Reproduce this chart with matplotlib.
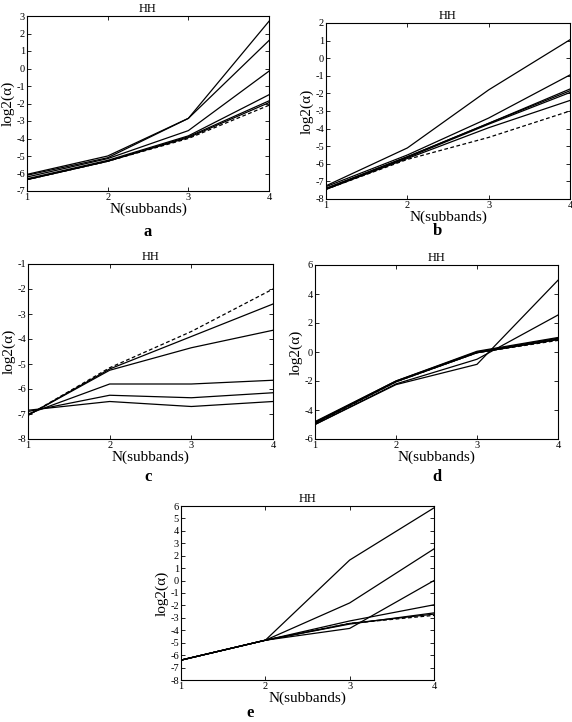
import matplotlib
matplotlib.use("Agg")
import matplotlib.pyplot as plt
import numpy as np

plt.rcParams['font.family'] = ['Liberation Serif', 'DejaVu Serif']
plt.rcParams['axes.unicode_minus'] = False

x = [1, 2, 3, 4]

# Panel a
a_solid = [
    [-6.05, -5.0, -2.85, 2.7],
    [-6.1, -5.1, -2.85, 1.6],
    [-6.2, -5.15, -3.55, -0.15],
    [-6.3, -5.25, -3.85, -1.5],
    [-6.35, -5.3, -3.9, -1.85],
    [-6.35, -5.3, -3.95, -1.95],
]
a_dashed = [-6.35, -5.3, -4.0, -2.1]

# Panel b
b_solid = [
    [-7.25, -5.1, -1.8, 1.05],
    [-7.3, -5.5, -3.4, -0.95],
    [-7.4, -5.6, -3.7, -1.75],
    [-7.4, -5.6, -3.7, -1.85],
    [-7.45, -5.65, -3.75, -1.95],
    [-7.45, -5.7, -3.95, -2.4],
]
b_dashed = [-7.45, -5.75, -4.5, -3.0]

# Panel c
c_solid = [
    [-7.05, -5.2, -3.9, -2.6],
    [-7.05, -5.25, -4.35, -3.65],
    [-7.0, -5.8, -5.8, -5.65],
    [-6.9, -6.25, -6.35, -6.15],
    [-6.85, -6.5, -6.7, -6.5],
]
c_dashed = [-7.05, -5.15, -3.7, -2.0]

# Panel d
d_solid = [
    [-5.0, -2.25, -0.85, 4.95],
    [-5.0, -2.2, -0.5, 2.55],
    [-4.8, -2.0, 0.05, 1.0],
    [-4.85, -2.0, 0.0, 0.95],
    [-4.9, -2.05, -0.05, 0.9],
    [-4.9, -2.05, -0.05, 0.85],
]
d_dashed = [-4.95, -2.05, -0.05, 0.8]

# Panel e
e_solid = [
    [-6.4, -4.8, 1.65, 5.85],
    [-6.4, -4.8, -1.8, 2.55],
    [-6.4, -4.8, -3.85, 0.0],
    [-6.4, -4.8, -3.25, -1.95],
    [-6.4, -4.8, -3.5, -2.6],
    [-6.4, -4.8, -3.45, -2.7],
]
e_dashed = [-6.4, -4.8, -3.45, -2.8]

W, H = 572, 722
fig = plt.figure(figsize=(W / 100, H / 100), dpi=100)


def rect(l, r, t, b):
    return [l / W, 1 - b / H, (r - l) / W, (b - t) / H]


panels = [
    (rect(27, 269, 16, 191), a_solid, a_dashed, (-7, 3), np.arange(-7, 4, 1), 'a', (148, 232)),
    (rect(326, 570, 23, 199), b_solid, b_dashed, (-8, 2), np.arange(-8, 3, 1), 'b', (437, 231)),
    (rect(28, 273, 264, 439), c_solid, c_dashed, (-8, -1), np.arange(-8, 0, 1), 'c', (148, 477)),
    (rect(315, 558, 265, 439), d_solid, d_dashed, (-6, 6), np.arange(-6, 7, 2), 'd', (437, 477)),
    (rect(181, 434, 506, 680), e_solid, e_dashed, (-8, 6), np.arange(-8, 7, 1), 'e', (250, 713)),
]

for r, solid, dashed, ylim, yt, letter, (lx, ly) in panels:
    ax = fig.add_axes(r)
    for s in solid:
        ax.plot(x, s, color='black', lw=0.9)
    ax.plot(x, dashed, color='black', lw=0.9, ls=(0, (3, 2)))
    ax.set_xlim(1, 4)
    ax.set_ylim(*ylim)
    ax.set_xticks(x)
    ax.set_yticks(yt)
    ax.tick_params(direction='in', top=True, right=True, length=3, width=0.6,
                   labelsize=7.5, pad=1.5)
    for sp in ax.spines.values():
        sp.set_linewidth(0.8)
    ax.set_title('HH', fontsize=9, pad=3)
    ax.set_xlabel('N(subbands)', fontsize=11, labelpad=0)
    ax.set_ylabel('log2(α)', fontsize=11, labelpad=1)
    fig.text(lx / W, 1 - ly / H, letter, fontsize=12, fontweight='bold',
             ha='center', va='center')

fig.savefig('out.png', dpi=100)
